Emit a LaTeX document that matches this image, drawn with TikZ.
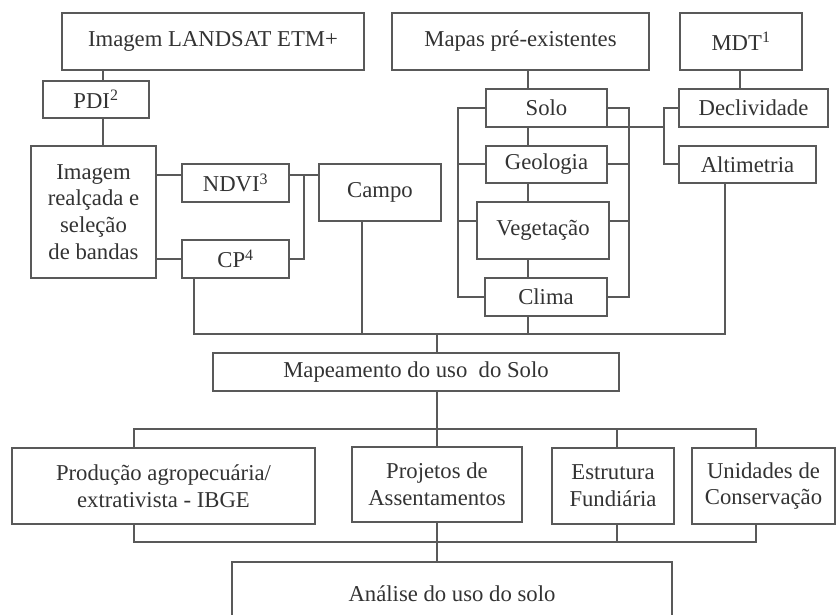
\documentclass[tikz,border=0pt]{standalone}
\usepackage{fontspec}
\setmainfont{Liberation Serif}
\begin{document}
\begin{tikzpicture}[x=1pt, y=-1pt, line width=1.8pt,
  box/.style={draw=black!65, rectangle, inner sep=0pt, align=center, text=black!80,
    font=\fontsize{22.7}{26.7}\selectfont},
  link/.style={draw=black!65}]
\path[use as bounding box, fill=white] (0,0) rectangle (836,615);
% sources
\node[box, minimum width=302, minimum height=57] (landsat) at (213,41.5) {Imagem LANDSAT ETM+};
\node[box, minimum width=257, minimum height=57] (mapas) at (520.5,41.5) {Mapas pré-existentes};
\node[box, minimum width=122, minimum height=57] (mdt) at (741,41.5) {MDT\textsuperscript{1}};
% image branch
\node[box, minimum width=106, minimum height=37] (pdi) at (96,99.5) {PDI\textsuperscript{2}};
\node[box, minimum width=125, minimum height=132] (img) at (93.5,212) {Imagem\\realçada e\\seleção\\de bandas};
\node[box, minimum width=107, minimum height=38] (ndvi) at (235.5,183) {NDVI\textsuperscript{3}};
\node[box, minimum width=107, minimum height=38] (cp) at (235.5,259) {CP\textsuperscript{4}};
\node[box, minimum width=122, minimum height=57] (campo) at (380,192.5) {Campo};
% map branch
\node[box, minimum width=121, minimum height=38] (solo) at (546.5,108) {Solo};
\node[box, minimum width=121, minimum height=37] (geologia) at (546.5,164.5) {Geologia};
\node[box, minimum width=132, minimum height=57] (vegetacao) at (543,230.5) {Vegetação};
\node[box, minimum width=122, minimum height=38] (clima) at (546,297) {Clima};
% terrain branch
\node[box, minimum width=149, minimum height=38] (declividade) at (753.5,108) {Declividade};
\node[box, minimum width=137, minimum height=37] (altimetria) at (747.5,164.5) {Altimetria};
% result
\node[box, minimum width=406, minimum height=38] (mapeamento) at (416,372) {Mapeamento do uso\ \ do Solo};
\node[box, minimum width=303, minimum height=76] (producao) at (163.5,486) {Produção agropecuária/\\extrativista - IBGE};
\node[box, minimum width=170, minimum height=75] (projetos) at (437,484.5) {Projetos de\\Assentamentos};
\node[box, minimum width=122, minimum height=76] (estrutura) at (613,486) {Estrutura\\Fundiária};
\node[box, minimum width=143, minimum height=76] (unidades) at (763.5,486) {Unidades de\\Conservação};
\node[box, minimum width=440, minimum height=63] (analise) at (452,593.5) {Análise do uso do solo};
% bus points
\coordinate (b1) at (194,334);
\coordinate (b2) at (725,334);
\coordinate (t1) at (134,429);
\coordinate (t2) at (756,429);
\coordinate (u1) at (134,542);
\coordinate (u2) at (756,542);
% image branch links
\path[link] (landsat.south -| 103,0) -- (pdi.north -| 103,0);
\path[link] (pdi.south -| 103,0) -- (img.north -| 103,0);
\path[link] (img.east |- 0,175) -- (ndvi.west |- 0,175);
\path[link] (img.east |- cp.west) -- (cp.west);
\path[link] (ndvi.east |- 0,175) -- (campo.west |- 0,175);
\path[link] (cp.east) -| (304,175);
% map branch links
\path[link] (mapas.south -| 528,0) -- (solo.north -| 528,0);
\path[link] (solo.south -| 528,0) -- (geologia.north -| 528,0);
\path[link] (geologia.south -| 528,0) -- (vegetacao.north -| 528,0);
\path[link] (vegetacao.south -| 528,0) -- (clima.north -| 528,0);
\path[link] (solo.west) -| (458,297) -- (clima.west);
\path[link] (geologia.west |- 0,164) -- (458,164);
\path[link] (vegetacao.west |- 0,221) -- (458,221);
\path[link] (solo.east) -| (629,297) -- (clima.east);
\path[link] (geologia.east |- 0,164) -- (629,164);
\path[link] (vegetacao.east |- 0,221) -- (629,221);
% terrain links
\path[link] (mdt.south -| 740,0) -- (declividade.north -| 740,0);
\path[link] (solo.east |- 0,127) -- (664,127);
\path[link] (declividade.west) -| (664,164) -- (altimetria.west |- 0,164);
% into the mapping
\path[link] (cp.south -| b1) -- (b1) -- (b2) -- (altimetria.south -| b2);
\path[link] (campo.south -| 362,0) -- (362,334);
\path[link] (clima.south -| 528,0) -- (528,334);
\path[link] (437,334) -- (mapeamento.north -| 437,0);
% out of the mapping
\path[link] (mapeamento.south -| 437,0) -- (437,429);
\path[link] (producao.north -| t1) -- (t1) -- (t2) -- (unidades.north -| t2);
\path[link] (projetos.north -| 437,0) -- (437,429);
\path[link] (estrutura.north -| 617,0) -- (617,429);
\path[link] (producao.south -| u1) -- (u1) -- (u2) -- (unidades.south -| u2);
\path[link] (projetos.south -| 437,0) -- (437,542);
\path[link] (estrutura.south -| 617,0) -- (617,542);
\path[link] (437,542) -- (analise.north -| 437,0);
\end{tikzpicture}
\end{document}
